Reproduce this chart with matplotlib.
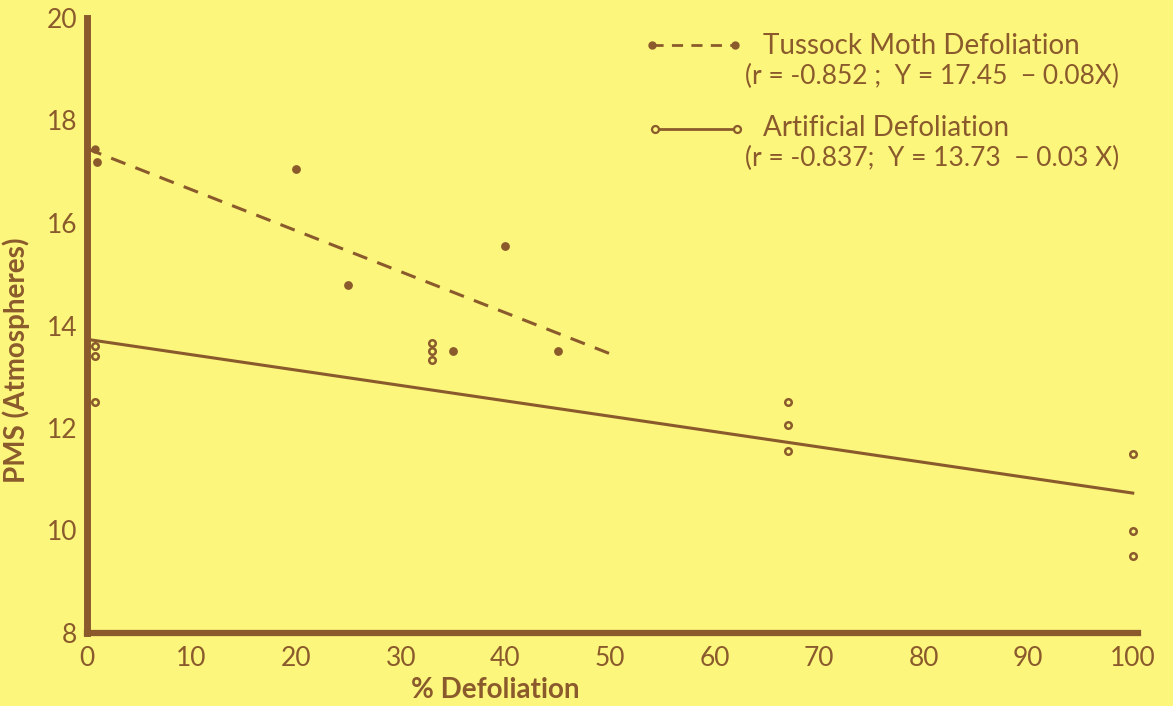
"""PMS vs % defoliation: tussock moth vs artificial defoliation scatter with fits."""

import matplotlib

matplotlib.use("Agg")
import matplotlib.pyplot as plt
import numpy as np

BG = "#fcf67c"
BROWN = "#8a5a2c"

# Tussock moth defoliation (filled dots)
tussock_x = [1, 20, 25, 35, 40, 45]
tussock_y = [17.2, 17.05, 14.8, 13.5, 15.55, 13.5]
tussock_fit = (17.45, -0.08)
tussock_range = [0, 50]

# Artificial defoliation (open circles)
artificial_x = [0.8, 0.8, 0.8, 33, 33, 33, 67, 67, 67, 100, 100, 100]
artificial_y = [13.6, 13.4, 12.5, 13.65, 13.5, 13.33, 12.5, 12.05, 11.55, 11.5, 10.0, 9.5]
artificial_fit = (13.73, -0.03)
artificial_range = [0, 100]

x_ticks = [0, 10, 20, 30, 40, 50, 60, 70, 80, 90, 100]
y_ticks = [8, 10, 12, 14, 16, 18, 20]

plt.rcParams["font.family"] = ["Lato", "DejaVu Sans"]

fig = plt.figure(figsize=(11.73, 7.06), dpi=100, facecolor=BG)
ax = fig.add_axes([87 / 1173, 73 / 706, 1051 / 1173, 615 / 706])
ax.set_facecolor(BG)

# fit lines
xs = np.array(tussock_range)
ax.plot(xs, tussock_fit[0] + tussock_fit[1] * xs, color=BROWN, lw=2.2,
        dashes=(5, 3.5), zorder=2)
ax.plot([0.8], [tussock_fit[0]], "o", color=BROWN, ms=5, zorder=3)
xs = np.array(artificial_range)
ax.plot(xs, artificial_fit[0] + artificial_fit[1] * xs, color=BROWN, lw=2.2, zorder=2)

ax.scatter(tussock_x, tussock_y, s=28, color=BROWN, zorder=3)
ax.scatter(artificial_x, artificial_y, s=22, facecolor=BG, edgecolor=BROWN,
           linewidth=1.8, zorder=3)

ax.set_xlim(0, 100.5)
ax.set_ylim(8, 20)
ax.set_xticks(x_ticks)
ax.set_yticks(y_ticks)
ax.tick_params(length=0, labelsize=19, colors=BROWN)
ax.tick_params(axis="x", pad=9)
ax.tick_params(axis="y", pad=7)
for s in ["top", "right"]:
    ax.spines[s].set_visible(False)
ax.spines["left"].set_linewidth(5)
ax.spines["bottom"].set_linewidth(4.5)
ax.spines["left"].set_color(BROWN)
ax.spines["bottom"].set_color(BROWN)

fig.text(16 / 1173, 1 - 360 / 706, "PMS (Atmospheres)", rotation=90, ha="center",
         va="center", fontsize=20, color=BROWN, fontweight="bold")
fig.text(495 / 1173, 1 - 690 / 706, "% Defoliation", ha="center", va="center",
         fontsize=20, color=BROWN, fontweight="bold")


# legend, drawn by hand
def fx(p):
    return p / 1173


def fy(p):
    return 1 - p / 706


fig.add_artist(plt.Line2D([fx(652), fx(735)], [fy(45), fy(45)], color=BROWN, lw=2,
                          dashes=(4, 3)))
fig.add_artist(plt.Line2D([fx(652), fx(735)], [fy(45), fy(45)], color=BROWN, lw=0,
                          marker="o", ms=5))
fig.text(fx(763), fy(46), "Tussock Moth Defoliation", fontsize=20, color=BROWN,
         va="center")
fig.text(fx(745), fy(76), "(r = -0.852 ;  Y = 17.45  − 0.08X)", fontsize=19,
         color=BROWN, va="center")

fig.add_artist(plt.Line2D([fx(655), fx(737)], [fy(129), fy(129)], color=BROWN, lw=2,
                          marker="o", ms=5, mfc=BG, mec=BROWN, mew=1.6))
fig.text(fx(763), fy(128), "Artificial Defoliation", fontsize=20, color=BROWN,
         va="center")
fig.text(fx(745), fy(158), "(r = -0.837;  Y = 13.73  − 0.03 X)", fontsize=19,
         color=BROWN, va="center")

fig.savefig("out.png", dpi=100, facecolor=BG)
